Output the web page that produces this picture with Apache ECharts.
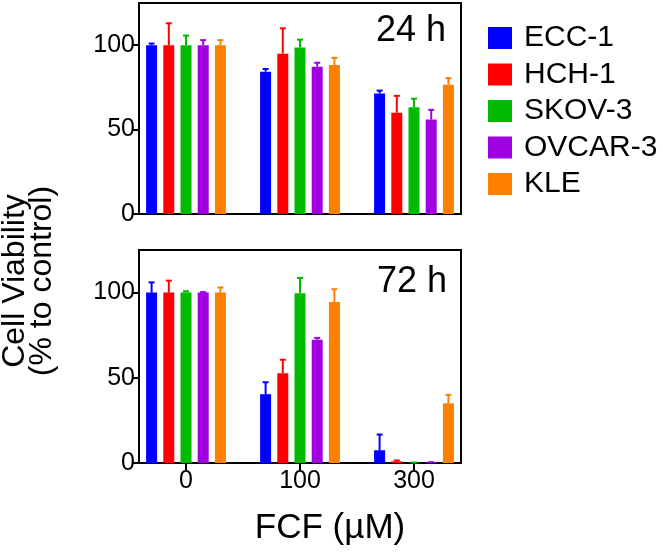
<!DOCTYPE html>
<html><head><meta charset="utf-8">
<script src="https://cdn.jsdelivr.net/npm/echarts@6/dist/echarts.min.js"></script>
<style>html,body{margin:0;padding:0;background:#fff}#c{width:663px;height:559px}</style>
</head><body><div id="c"></div>
<script>
// ---------- data ----------
const doses = ['0', '100', '300'];
const cellLines = ['ECC-1', 'HCH-1', 'SKOV-3', 'OVCAR-3', 'KLE'];
const yTicks = [0, 50, 100];

// 24 h mean viability (%) and upper error (SD)
const ecc1_24h = [100, 84.3, 71.4];   const ecc1_24h_err = [1, 1.6, 1.7];
const hch1_24h = [100, 95, 60];       const hch1_24h_err = [13, 15, 10];
const skov3_24h = [100, 98.6, 63.3];  const skov3_24h_err = [5.7, 4.7, 5];
const ovcar3_24h = [100, 87.3, 56];   const ovcar3_24h_err = [3, 2.3, 5.7];
const kle_24h = [100, 88.2, 76.5];    const kle_24h_err = [3, 4.3, 4];

// 72 h
const ecc1_72h = [100, 40.4, 7.5];    const ecc1_72h_err = [6, 7, 9.2];
const hch1_72h = [100, 52.6, 1.0];    const hch1_72h_err = [7, 8, 0.5];
const skov3_72h = [100, 99.6, 0.3];   const skov3_72h_err = [0.8, 9, 0];
const ovcar3_72h = [100, 72.4, 0.5];  const ovcar3_72h_err = [0.3, 1, 0];
const kle_72h = [100, 94.5, 35];      const kle_72h_err = [3, 7.5, 5];

const means24 = [ecc1_24h, hch1_24h, skov3_24h, ovcar3_24h, kle_24h];
const errs24 = [ecc1_24h_err, hch1_24h_err, skov3_24h_err, ovcar3_24h_err, kle_24h_err];
const means72 = [ecc1_72h, hch1_72h, skov3_72h, ovcar3_72h, kle_72h];
const errs72 = [ecc1_72h_err, hch1_72h_err, skov3_72h_err, ovcar3_72h_err, kle_72h_err];

// ---------- styles ----------
const colors = ['#0000ff', '#ff0000', '#00bb00', '#a000e0', '#ff8000'];
const FONT = '"Liberation Sans", Arial, sans-serif';
const BAR_W = 11;
const BAR_STEP = 17.2;
const gapPct = ((BAR_STEP - BAR_W) / BAR_W * 100).toFixed(1) + '%';

function errRender(offset, color) {
  return function (params, api) {
    const x = api.value(0), m = api.value(1), e = api.value(2);
    const p0 = api.coord([x, m]);
    const p1 = api.coord([x, m + e]);
    const cx = p0[0] + offset;
    return {
      type: 'group',
      children: [
        { type: 'line', shape: { x1: cx, y1: p0[1], x2: cx, y2: p1[1] }, style: { stroke: color, lineWidth: 2 } },
        { type: 'line', shape: { x1: cx - 3, y1: p1[1], x2: cx + 3, y2: p1[1] }, style: { stroke: color, lineWidth: 2 } }
      ]
    };
  };
}

const panels = [
  { top: 3, height: 211, means: means24, errs: errs24 },
  { top: 250, height: 213, means: means72, errs: errs72 }
];

const grid = [], xAxis = [], yAxis = [], series = [];
panels.forEach((p, k) => {
  const boxIdx = grid.length;
  grid.push({ left: 139, top: p.top, width: 322, height: p.height, show: true,
              borderColor: '#000', borderWidth: 2, backgroundColor: 'transparent' });
  const dataIdx = grid.length;
  grid.push({ left: 129, top: p.top, width: 342, height: p.height, show: false });

  xAxis.push({ type: 'category', gridIndex: boxIdx, data: doses, show: false });
  yAxis.push({ type: 'value', gridIndex: boxIdx, min: 0, max: 125, interval: 50,
    axisLine: { show: false }, splitLine: { show: false },
    axisTick: { show: true, length: 7, lineStyle: { color: '#000', width: 2 } },
    axisLabel: { color: '#000', fontSize: 25, fontFamily: FONT, margin: 4,
      showMaxLabel: false, formatter: v => (yTicks.indexOf(v) >= 0 ? String(v) : '') } });

  const isBottom = k === panels.length - 1;
  xAxis.push({ type: 'category', gridIndex: dataIdx, data: doses, show: isBottom,
    axisLine: { show: false },
    axisTick: { show: isBottom, alignWithLabel: true, length: 7, lineStyle: { color: '#000', width: 2 } },
    axisLabel: { color: '#000', fontSize: 25, fontFamily: FONT, margin: 6 } });
  yAxis.push({ type: 'value', gridIndex: dataIdx, min: 0, max: 125, interval: 50, show: false, splitLine: { show: false } });

  const xi = xAxis.length - 1, yi = yAxis.length - 1;
  cellLines.forEach((name, i) => {
    series.push({ type: 'bar', name: name, xAxisIndex: xi, yAxisIndex: yi,
      data: p.means[i], barWidth: BAR_W, barGap: gapPct,
      itemStyle: { color: colors[i] }, silent: true, z: 2 });
  });
  cellLines.forEach((name, i) => {
    const offset = (i - 2) * BAR_STEP;
    series.push({ type: 'custom', name: name + ' error', xAxisIndex: xi, yAxisIndex: yi,
      data: doses.map((d, j) => [j, p.means[i][j], p.errs[i][j]]),
      encode: { x: 0, y: 1 }, renderItem: errRender(offset, colors[i]), silent: true, z: 3 });
  });
});

const chart = echarts.init(document.getElementById('c'), null, { renderer: 'canvas' });
chart.setOption({
  animation: false,
  backgroundColor: '#fff',
  grid, xAxis, yAxis, series,
  legend: {
    data: cellLines, orient: 'vertical', left: 488, top: 23, padding: 0,
    icon: 'rect', itemWidth: 24, itemHeight: 22, itemGap: 6.5,
    selectedMode: false,
    textStyle: { color: '#000', fontSize: 30, fontFamily: FONT, padding: [0, 0, 0, 7] }
  },
  graphic: [
    { type: 'text', right: 663 - 446, top: 13, style: { text: '24 h', fontSize: 36, fontFamily: FONT, fill: '#000' } },
    { type: 'text', right: 663 - 447, top: 264, style: { text: '72 h', fontSize: 36, fontFamily: FONT, fill: '#000' } },
    { type: 'text', x: 15, y: 281, rotation: Math.PI / 2,
      style: { text: 'Cell Viability', fontSize: 32, fontFamily: FONT, fill: '#000',
               align: 'center', verticalAlign: 'middle', textAlign: 'center', textVerticalAlign: 'middle' } },
    { type: 'text', x: 42, y: 281, rotation: Math.PI / 2,
      style: { text: '(% to control)', fontSize: 32, fontFamily: FONT, fill: '#000',
               align: 'center', verticalAlign: 'middle', textAlign: 'center', textVerticalAlign: 'middle' } },
    { type: 'text', x: 330, y: 528,
      style: { text: 'FCF (µM)', fontSize: 35, fontFamily: FONT, fill: '#000',
               align: 'center', verticalAlign: 'middle', textAlign: 'center', textVerticalAlign: 'middle' } }
  ]
});
</script></body></html>
